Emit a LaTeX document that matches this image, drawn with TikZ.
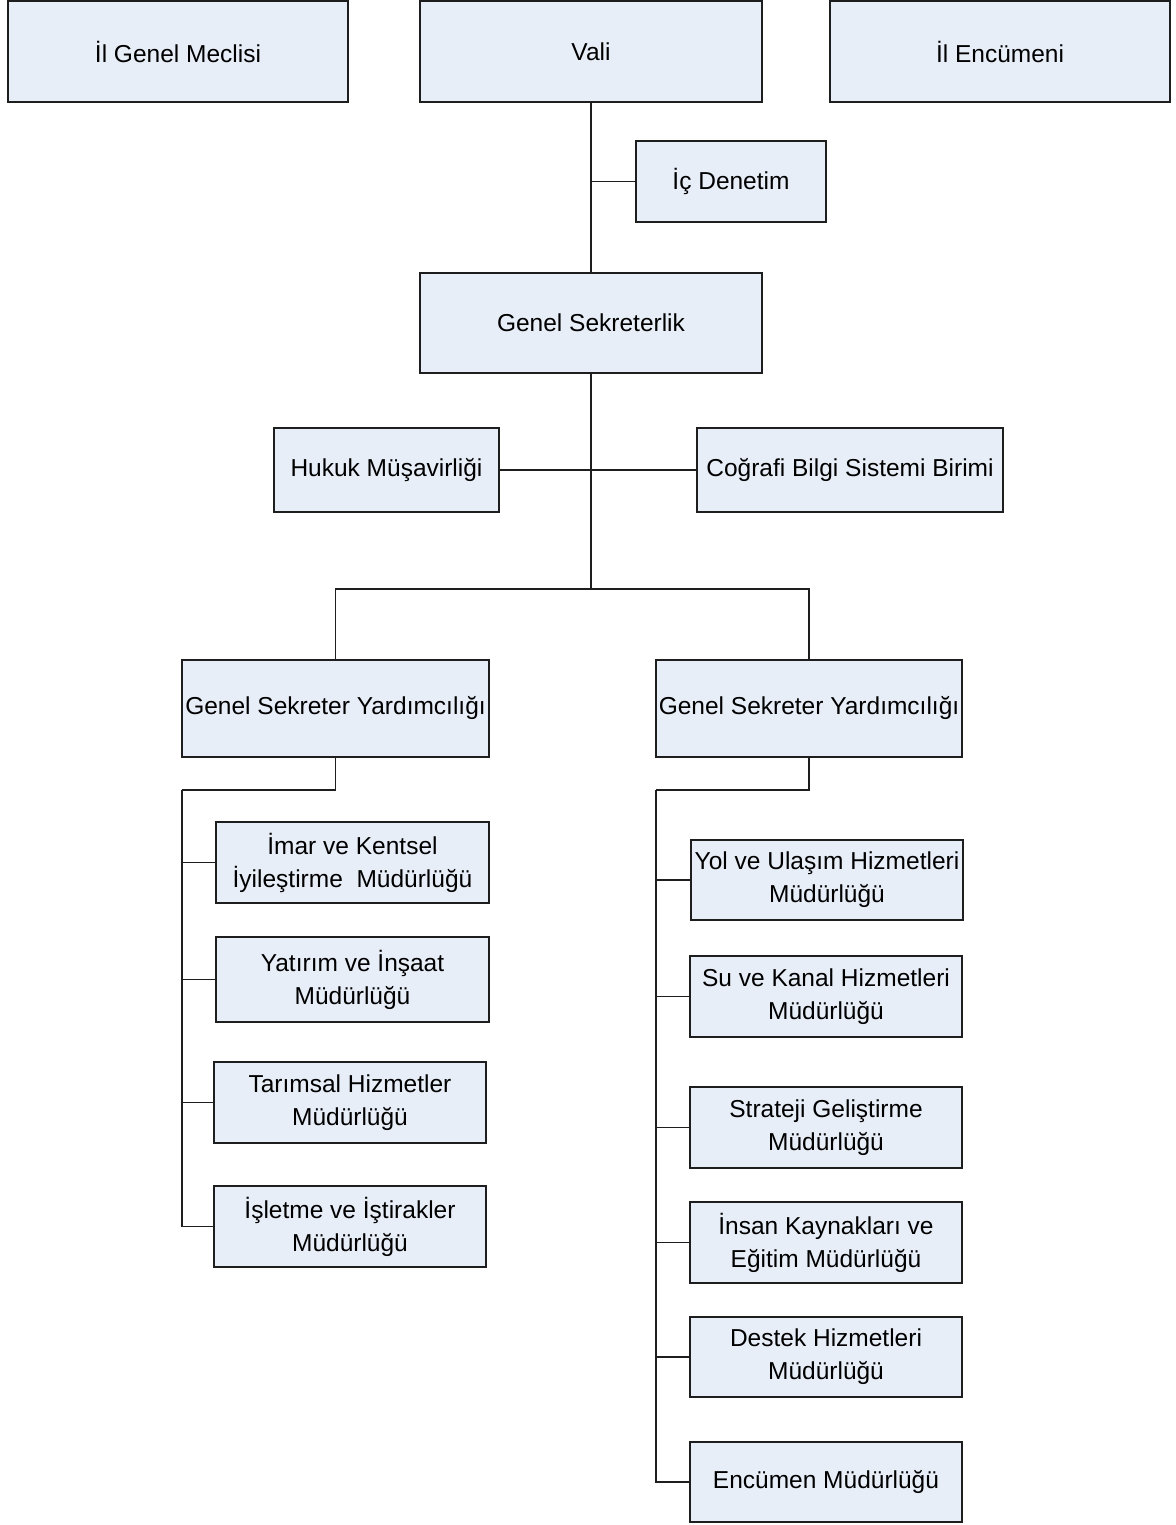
\documentclass[tikz,border=0pt]{standalone}
\usepackage{fontspec}
\setmainfont{Liberation Sans}
\definecolor{boxfill}{HTML}{E8EEF8}
\definecolor{boxline}{HTML}{1E1E1E}
\tikzset{
  unit/.style={draw=boxline, fill=boxfill, line width=1.8pt, inner sep=0pt,
    align=center, font=\fontsize{24.5}{33}\selectfont},
  link/.style={draw=boxline, line width=1.8pt}
}
\begin{document}
\begin{tikzpicture}[x=1pt, y=-1pt]
			\useasboundingbox (0,0) rectangle (1175,1525);

			% top row
			\node[unit, minimum width=340, minimum height=101] (meclis) at (178,51.5) {İl Genel Meclisi};
			\node[unit, minimum width=342, minimum height=101] (vali) at (591,51.5) {Vali};
			\node[unit, minimum width=340, minimum height=101] (encumeni) at (1000,51.5) {İl Encümeni};

			\node[unit, minimum width=190, minimum height=81] (ic) at (731,181.5) {İç Denetim};
			\node[unit, minimum width=342, minimum height=100] (gs) at (591,323) {Genel Sekreterlik};

			\node[unit, minimum width=225, minimum height=84] (hukuk) at (386.5,470) {Hukuk Müşavirliği};
			\node[unit, minimum width=306, minimum height=84] (cbs) at (850,470) {Coğrafi Bilgi Sistemi Birimi};

			\node[unit, minimum width=307, minimum height=97] (gsyA) at (335.5,708.5) {Genel Sekreter Yardımcılığı};
			\node[unit, minimum width=306, minimum height=97] (gsyB) at (809,708.5) {Genel Sekreter Yardımcılığı};

			% left branch
			\node[unit, minimum width=273, minimum height=81] (imar) at (352.5,862.5) {İmar ve Kentsel\\İyileştirme~ Müdürlüğü};
			\node[unit, minimum width=273, minimum height=85] (yatirim) at (352.5,979.5) {Yatırım ve İnşaat\\Müdürlüğü};
			\node[unit, minimum width=272, minimum height=81] (tarim) at (350,1102.5) {Tarımsal Hizmetler\\Müdürlüğü};
			\node[unit, minimum width=272, minimum height=81] (isletme) at (350,1226.5) {İşletme ve İştirakler\\Müdürlüğü};

			% right branch
			\node[unit, minimum width=272, minimum height=80] (yol) at (827,880) {Yol ve Ulaşım Hizmetleri\\Müdürlüğü};
			\node[unit, minimum width=272, minimum height=81] (su) at (826,996.5) {Su ve Kanal Hizmetleri\\Müdürlüğü};
			\node[unit, minimum width=272, minimum height=81] (strateji) at (826,1127.5) {Strateji Geliştirme\\Müdürlüğü};
			\node[unit, minimum width=272, minimum height=81] (insan) at (826,1242.5) {İnsan Kaynakları ve\\Eğitim Müdürlüğü};
			\node[unit, minimum width=272, minimum height=80] (destek) at (826,1357) {Destek Hizmetleri\\Müdürlüğü};
			\node[unit, minimum width=272, minimum height=80] (encumen) at (826,1482) {Encümen Müdürlüğü};

			\coordinate (hub) at (591,589);
			\coordinate (spineA) at (182,790);
			\coordinate (spineB) at (656,790);

			\path[link]
				(vali) -- (gs)
				(ic.west) -- (ic.west -| vali.south)
				(hukuk) -- (cbs)
				(gs) -- (hub)
				(hub) -| (gsyA.north)
				(hub) -| (gsyB.north)

				(gsyA.south) |- (spineA)
				(spineA) |- (isletme.west)
				(imar.west) -- (imar.west -| spineA)
				(yatirim.west) -- (yatirim.west -| spineA)
				(tarim.west) -- (tarim.west -| spineA)

				(gsyB.south) |- (spineB)
				(spineB) |- (encumen.west)
				(yol.west) -- (yol.west -| spineB)
				(su.west) -- (su.west -| spineB)
				(strateji.west) -- (strateji.west -| spineB)
				(insan.west) -- (insan.west -| spineB)
				(destek.west) -- (destek.west -| spineB)
			;
\end{tikzpicture}
\end{document}
